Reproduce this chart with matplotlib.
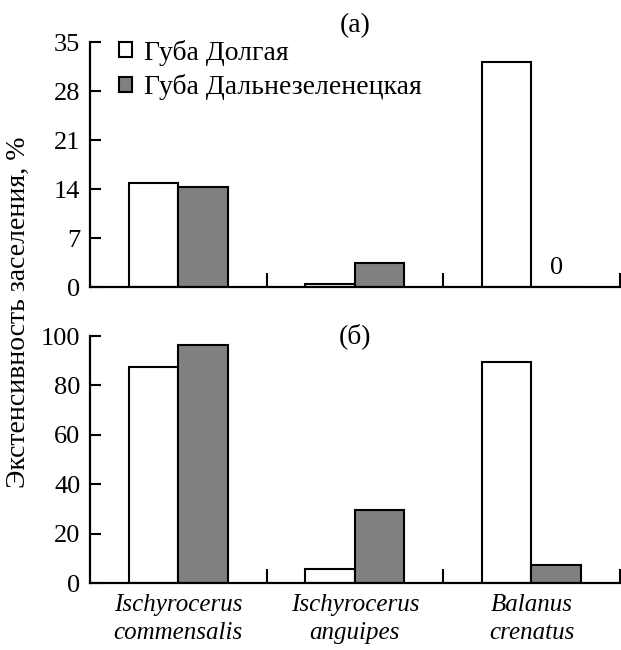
import numpy as np
import matplotlib.pyplot as plt
from matplotlib.patches import Patch

plt.rcParams['font.family'] = ['Liberation Serif', 'DejaVu Serif']

species = ["Ischyrocerus\ncommensalis", "Ischyrocerus\nanguipes", "Balanus\ncrenatus"]
series_names = ["Губа Долгая", "Губа Дальнезеленецкая"]
dolgaya_a = [14.9, 0.5, 32.2]
dalnie_a = [14.3, 3.5, 0.0]
dolgaya_b = [87.4, 5.7, 89.4]
dalnie_b = [96.4, 29.4, 7.2]

fig = plt.figure(figsize=(6.21, 6.5), dpi=100)
ax1 = fig.add_axes([0.145, 0.558, 0.853, 0.377])
ax2 = fig.add_axes([0.145, 0.103, 0.853, 0.38])

x = np.arange(len(species))
w = 0.28
gray = '#808080'

for ax, d1, d2 in [(ax1, dolgaya_a, dalnie_a), (ax2, dolgaya_b, dalnie_b)]:
    ax.bar(x - w / 2, d1, w, color='white', edgecolor='black', linewidth=1.5)
    ax.bar(x + w / 2, d2, w, color=gray, edgecolor='black', linewidth=1.5)
    ax.set_xlim(-0.5, 2.5)
    ax.spines['top'].set_visible(False)
    ax.spines['right'].set_visible(False)
    ax.spines['left'].set_linewidth(1.6)
    ax.spines['bottom'].set_linewidth(1.6)
    ax.set_xticks(x)
    ax.set_xticks([0.5, 1.5, 2.5], minor=True)
    ax.tick_params(axis='x', which='major', length=0, labelsize=18, pad=8)
    ax.tick_params(axis='x', which='minor', direction='in', length=10, width=1.5)
    ax.tick_params(axis='y', direction='in', length=8, width=1.5, labelsize=19, pad=7)

ax1.set_ylim(0, 35)
ax1.set_yticks([0, 7, 14, 21, 28, 35])
ax1.set_xticklabels([])
ax1.text(x[2] + w / 2, 1.2, "0", ha='center', va='bottom', fontsize=19)
ax1.set_title("(a)", fontsize=20, pad=7)

ax2.set_ylim(0, 100)
ax2.set_yticks([0, 20, 40, 60, 80, 100])
ax2.set_xticklabels(species, fontstyle='italic', linespacing=1.35)
ax2.text(1, 100, "(б)", ha='center', va='center', fontsize=20)

handles = [Patch(facecolor='white', edgecolor='black', linewidth=1.5),
           Patch(facecolor=gray, edgecolor='black', linewidth=1.5)]
ax1.legend(handles, series_names, loc='upper left', bbox_to_anchor=(0.055, 1.01),
           frameon=False, fontsize=20, handlelength=0.45, handleheight=0.45,
           handletextpad=0.45, labelspacing=0.3, borderaxespad=0, borderpad=0)

fig.text(0.03, 0.52, "Экстенсивность заселения, %", rotation=90,
         ha='center', va='center', fontsize=20)

fig.savefig("out.png", dpi=100)
